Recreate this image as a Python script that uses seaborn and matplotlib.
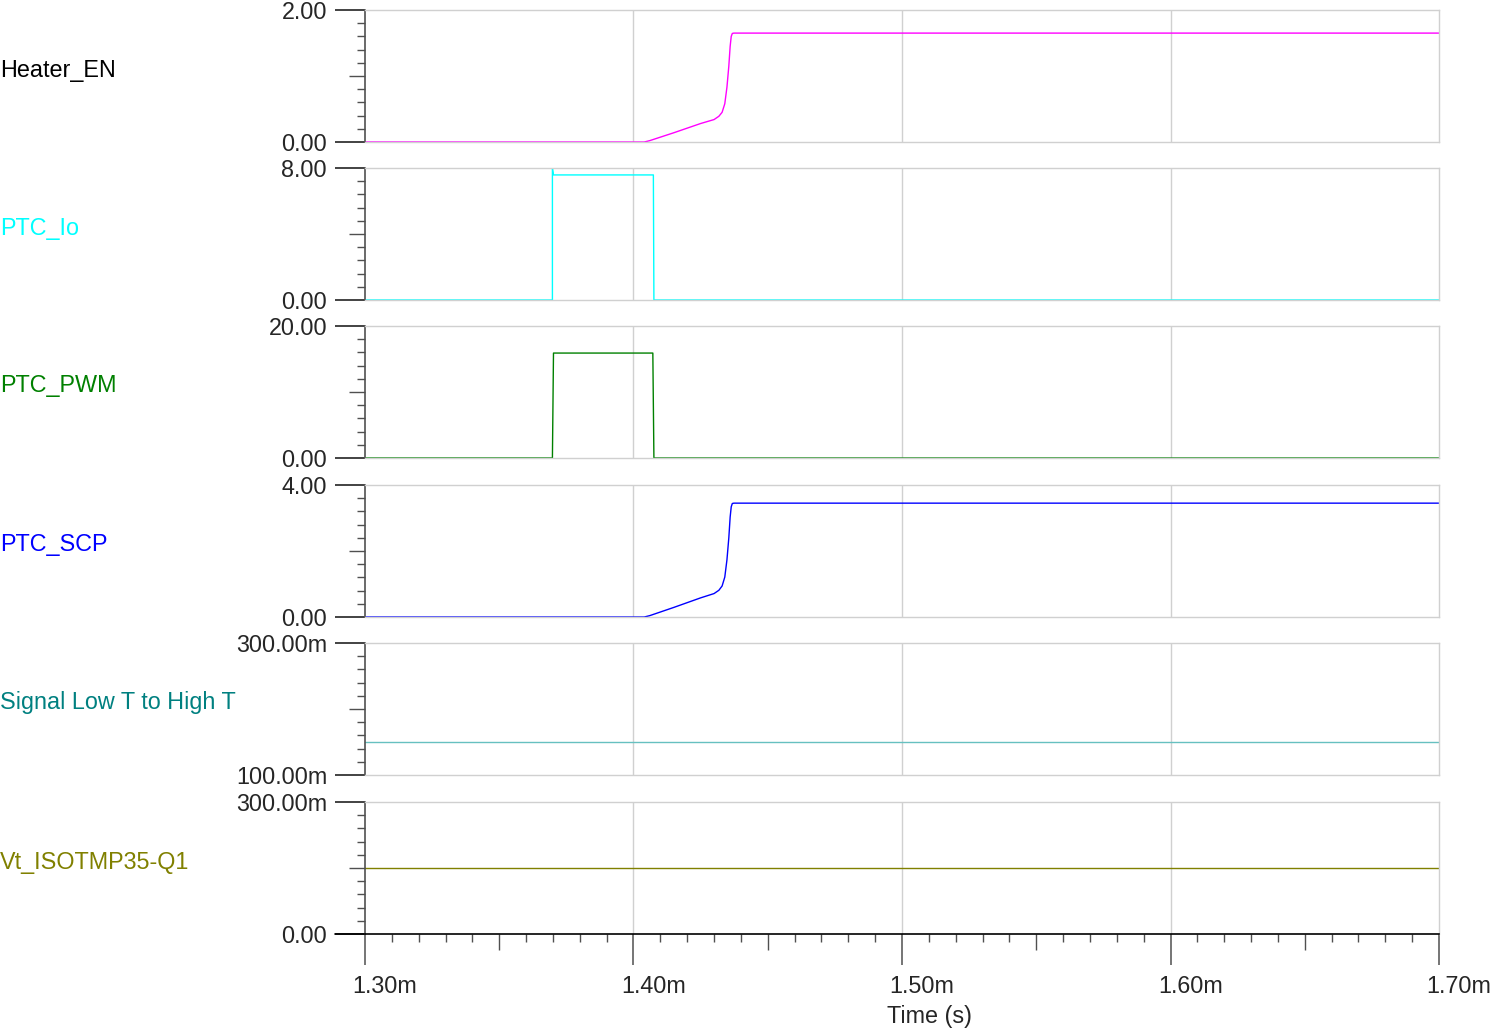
import numpy as np
import pandas as pd
import seaborn as sns
import matplotlib
matplotlib.use("Agg")
import matplotlib.pyplot as plt
from matplotlib.ticker import MultipleLocator, FixedLocator
from matplotlib.transforms import ScaledTranslation

# ---------------- data (time in ms) ----------------
heater_t = [1.300, 1.4040, 1.4060, 1.4150, 1.4250, 1.4300, 1.4318, 1.4330, 1.4340, 1.4348,
            1.4355, 1.4360, 1.4364, 1.4368, 1.4374, 1.700]
heater_v = [0.0, 0.0, 0.02, 0.14, 0.28, 0.34, 0.39, 0.45, 0.58, 0.83,
            1.15, 1.45, 1.60, 1.645, 1.65, 1.65]

io_t = [1.300, 1.3698, 1.3698, 1.3702, 1.4074, 1.4076, 1.700]
io_v = [0.0, 0.0, 8.0, 7.58, 7.58, 0.0, 0.0]

pwm_t = [1.300, 1.3698, 1.3702, 1.4072, 1.4076, 1.700]
pwm_v = [0.0, 0.0, 15.9, 15.9, 0.0, 0.0]

scp_t = [1.300, 1.4040, 1.4060, 1.4150, 1.4250, 1.4300, 1.4318, 1.4330, 1.4340, 1.4348,
         1.4355, 1.4360, 1.4364, 1.4368, 1.4374, 1.700]
scp_v = [0.0, 0.0, 0.04, 0.29, 0.58, 0.71, 0.81, 0.94, 1.21, 1.73,
         2.40, 3.03, 3.34, 3.44, 3.45, 3.45]

sig_t = [1.300, 1.700]
sig_v = [0.150, 0.150]

vt_t = [1.300, 1.700]
vt_v = [0.150, 0.150]

labels = ["Heater_EN", "PTC_Io", "PTC_PWM", "PTC_SCP", "Signal Low T to High T", "Vt_ISOTMP35-Q1"]
label_colors = ["#000000", "#00FFFF", "#008000", "#0000FF", "#008080", "#808000"]
line_colors = ["#FF00FF", "#00FFFF", "#008000", "#0000FF", "#66C0C0", "#808000"]
ylims = [(0.0, 2.0), (0.0, 8.0), (0.0, 20.0), (0.0, 4.0), (0.100, 0.300), (0.0, 0.300)]
ytick_labels = [("0.00", "2.00"), ("0.00", "8.00"), ("0.00", "20.00"), ("0.00", "4.00"),
                ("100.00m", "300.00m"), ("0.00", "300.00m")]
xtick_vals = [1.30, 1.40, 1.50, 1.60, 1.70]
xtick_labels = ["1.30m", "1.40m", "1.50m", "1.60m", "1.70m"]
xlabel = "Time (s)"

series = [(heater_t, heater_v), (io_t, io_v), (pwm_t, pwm_v), (scp_t, scp_v), (sig_t, sig_v), (vt_t, vt_v)]

# ---------------- figure ----------------
sns.set_style("white")
plt.rcParams["font.family"] = ["Liberation Sans", "DejaVu Sans"]
FS = 16.8
PT = 0.72  # points per pixel at dpi 100

W, H = 1490, 1030
fig = plt.figure(figsize=(W / 100, H / 100), dpi=100)

left_px, right_px = 365, 1439
tops = [10, 168, 326, 485, 643, 802]
ph = 132

grid_c = "#D0D0D0"
spine_c = "#505050"

for i, (t, v) in enumerate(series):
    top = tops[i]
    ax = fig.add_axes([left_px / W, 1 - (top + ph) / H, (right_px - left_px) / W, ph / H])
    df = pd.DataFrame({"t": t, "v": v})
    sns.lineplot(data=df, x="t", y="v", ax=ax, color=line_colors[i], lw=1.0,
                 estimator=None, sort=False)
    ax.set_xlim(1.30, 1.70)
    lo, hi = ylims[i]
    ax.set_ylim(lo, hi)
    ax.set_xlabel("")
    ax.set_ylabel("")
    for gx in [1.40, 1.50, 1.60]:
        ax.axvline(gx, color=grid_c, lw=1.0, zorder=0)
    for s in ["top", "right", "bottom"]:
        ax.spines[s].set_color(grid_c)
        ax.spines[s].set_linewidth(1.0)
    ax.spines["left"].set_color(spine_c)
    ax.spines["left"].set_linewidth(1.2)
    # y ticks
    ax.yaxis.set_major_locator(FixedLocator([lo, hi]))
    ax.set_yticklabels(list(ytick_labels[i]), fontsize=FS)
    step = (hi - lo) / 10
    minor = [lo + k * step for k in range(1, 10)]
    ax.yaxis.set_minor_locator(FixedLocator(minor))
    ax.tick_params(axis="y", which="major", length=30 * PT, width=1.1, color="#101010",
                   pad=8 * PT, labelsize=FS, left=True)
    ax.tick_params(axis="y", which="minor", length=8 * PT, width=1.0, color=spine_c, left=True)
    mids = ax.yaxis.get_minor_ticks()
    mids[4].tick1line.set_markersize(16 * PT)

    ax.text(-365 / (right_px - left_px), 1 - 60 / ph, labels[i], transform=ax.transAxes,
            color=label_colors[i], fontsize=FS, ha="left", va="center")

    if i < 5:
        ax.tick_params(axis="x", which="both", bottom=False, labelbottom=False)
    else:
        ax.spines["bottom"].set_color("#000000")
        ax.spines["bottom"].set_linewidth(1.2)
        ax.xaxis.set_major_locator(FixedLocator(xtick_vals))
        ax.set_xticklabels(xtick_labels, fontsize=FS)
        ax.xaxis.set_minor_locator(MultipleLocator(0.01))
        ax.tick_params(axis="x", which="major", length=31 * PT, width=1.1, color=spine_c,
                       pad=10 * PT, bottom=True, labelsize=FS)
        ax.tick_params(axis="x", which="minor", length=8 * PT, width=1.0, color=spine_c, bottom=True)
        locs = ax.xaxis.get_minorticklocs()
        for k, tk in enumerate(ax.xaxis.get_minor_ticks()):
            if k >= len(locs):
                break
            q = (locs[k] - 1.30) / 0.05
            if abs(q - round(q)) < 1e-6 and round(q) % 2 == 1:
                tk.tick1line.set_markersize(16 * PT)
        off = ScaledTranslation(20 / 100, 0, fig.dpi_scale_trans)
        for lab in ax.get_xticklabels():
            lab.set_transform(lab.get_transform() + off)
        ax.plot([-30 / (right_px - left_px), 0], [0, 0], transform=ax.transAxes,
                color="#000000", lw=1.2, clip_on=False)

fig.text(929.5 / W, 1 - 1017 / H, xlabel, fontsize=FS, ha="center", va="center")

fig.savefig("out.png", dpi=100)
